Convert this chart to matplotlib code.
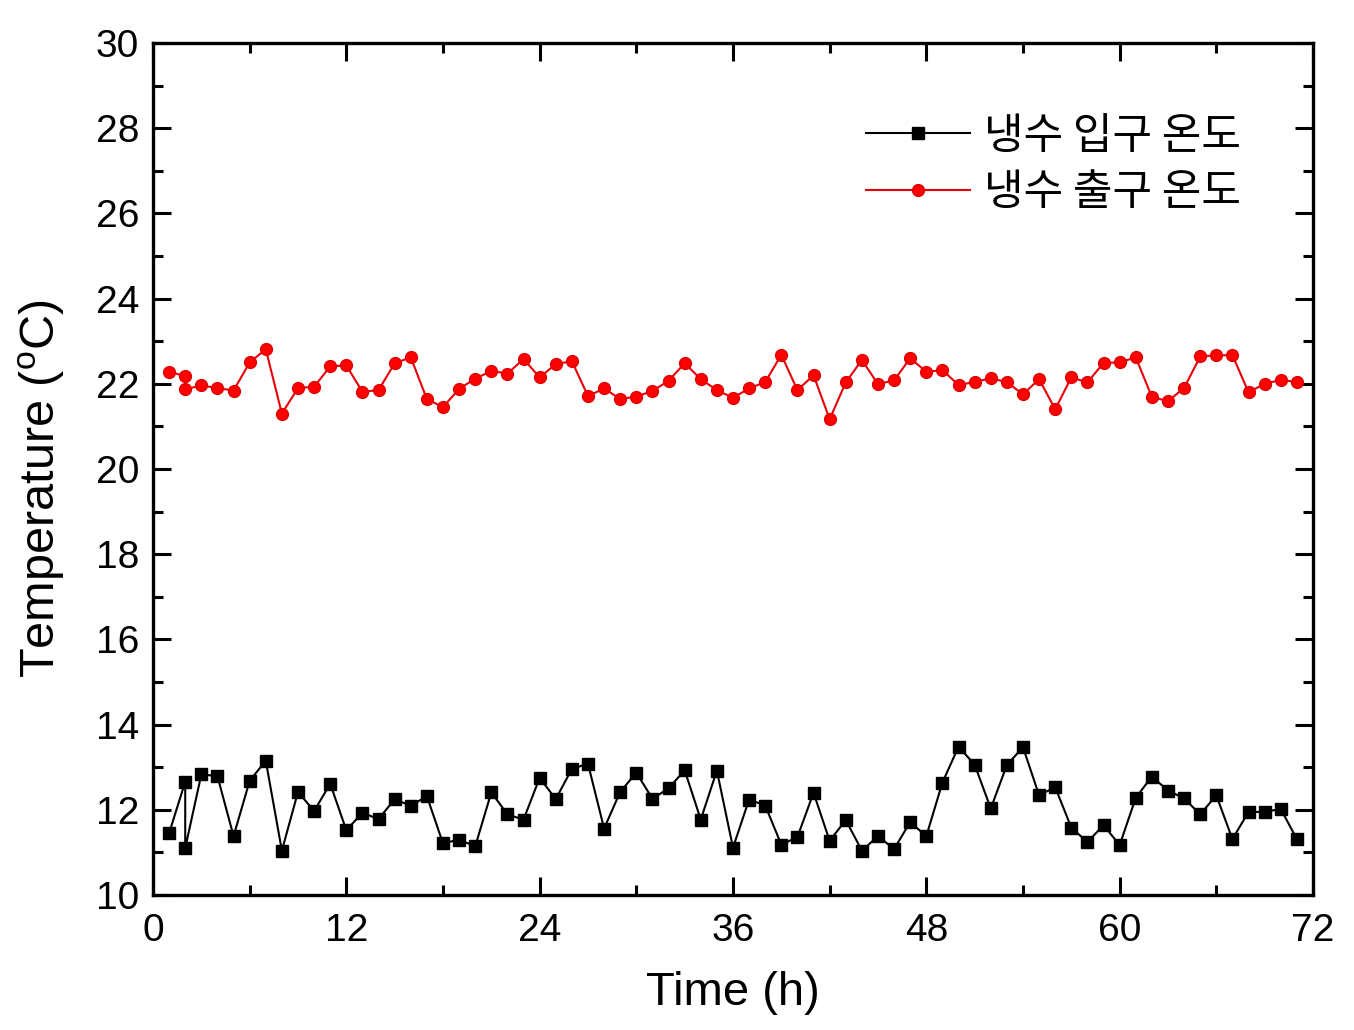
import matplotlib
matplotlib.use("Agg")
import matplotlib.pyplot as plt
from matplotlib.ticker import MultipleLocator


# hours of each reading (two readings were logged at t = 2 h)
TIME_H = [1, 2, 2] + list(range(3, 72))

INLET_C = [
    11.45, 12.66, 11.10, 12.83, 12.79, 11.38, 12.68, 13.15, 11.04, 12.42,
    11.97, 12.61, 11.52, 11.93, 11.78, 12.25, 12.09, 12.32, 11.21, 11.30,
    11.14, 12.41, 11.89, 11.77, 12.75, 12.25, 12.96, 13.08, 11.56, 12.42,
    12.87, 12.26, 12.50, 12.93, 11.77, 12.92, 11.11, 12.24, 12.10, 11.18,
    11.36, 12.40, 11.27, 11.76, 11.04, 11.38, 11.08, 11.71, 11.38, 12.64,
    13.48, 13.06, 12.03, 13.05, 13.47, 12.34, 12.53, 11.58, 11.24, 11.64,
    11.17, 12.28, 12.78, 12.45, 12.27, 11.89, 12.34, 11.31, 11.95, 11.95,
    12.02, 11.31,
]

OUTLET_C = [
    22.28, 22.18, 21.87, 21.96, 21.90, 21.84, 22.50, 22.81, 21.30, 21.90,
    21.93, 22.41, 22.43, 21.81, 21.85, 22.48, 22.62, 21.64, 21.45, 21.88,
    22.12, 22.30, 22.24, 22.58, 22.15, 22.46, 22.53, 21.71, 21.89, 21.64,
    21.70, 21.83, 22.07, 22.48, 22.11, 21.85, 21.67, 21.89, 22.04, 22.68,
    21.85, 22.20, 21.17, 22.03, 22.56, 21.99, 22.08, 22.60, 22.28, 22.32,
    21.97, 22.04, 22.13, 22.04, 21.75, 22.11, 21.40, 22.15, 22.03, 22.49,
    22.50, 22.62, 21.69, 21.59, 21.90, 22.64, 22.67, 22.67, 21.80, 22.00,
    22.09, 22.04,
]

LABELS = ["냉수 입구 온도", "냉수 출구 온도"]


def setup_style() -> None:
    plt.rcParams.update(
        {
            "font.family": ["Liberation Sans", "DejaVu Sans"],
            "mathtext.fontset": "custom",
            "mathtext.rm": "Liberation Sans",
            "mathtext.it": "Liberation Sans",
            "axes.linewidth": 2.4,
        }
    )


def plot() -> None:
    setup_style()
    fig = plt.figure(figsize=(13.54, 10.30), dpi=100)
    ax = fig.add_axes([0.113, 0.1311, 0.8567, 0.8272])

    ax.plot(TIME_H, INLET_C, color="black", lw=1.5, marker="s", ms=8, label=LABELS[0])
    ax.plot(TIME_H, OUTLET_C, color="#e8000b", lw=1.5, marker="o", ms=8.5,
            mfc="#ff0000", mec="#e00000", label=LABELS[1])

    ax.set_xlim(0, 72)
    ax.set_ylim(10, 30)
    ax.xaxis.set_major_locator(MultipleLocator(12))
    ax.xaxis.set_minor_locator(MultipleLocator(6))
    ax.yaxis.set_major_locator(MultipleLocator(2))
    ax.yaxis.set_minor_locator(MultipleLocator(1))
    ax.tick_params(which="both", direction="in", top=True, right=True, width=2.2)
    ax.tick_params(which="major", length=13, labelsize=28, pad=10)
    ax.tick_params(axis="x", which="major", pad=13)
    ax.tick_params(which="minor", length=7)

    ax.set_xlabel("Time (h)", fontsize=34, labelpad=16)
    ax.set_ylabel(r"Temperature ($^{\mathrm{o}}$C)", fontsize=35)
    ax.yaxis.set_label_coords(-0.074, 0.477)

    ax.legend(
        loc="upper left",
        bbox_to_anchor=(0.615, 0.916),
        frameon=False,
        borderpad=0,
        borderaxespad=0,
        handlelength=2.4,
        handletextpad=0.33,
        labelspacing=0.3,
        prop={"family": ["Noto Sans CJK KR", "DejaVu Sans"], "size": 31},
    )

    fig.savefig("out.png", dpi=100)
    plt.close(fig)


if __name__ == "__main__":
    plot()
